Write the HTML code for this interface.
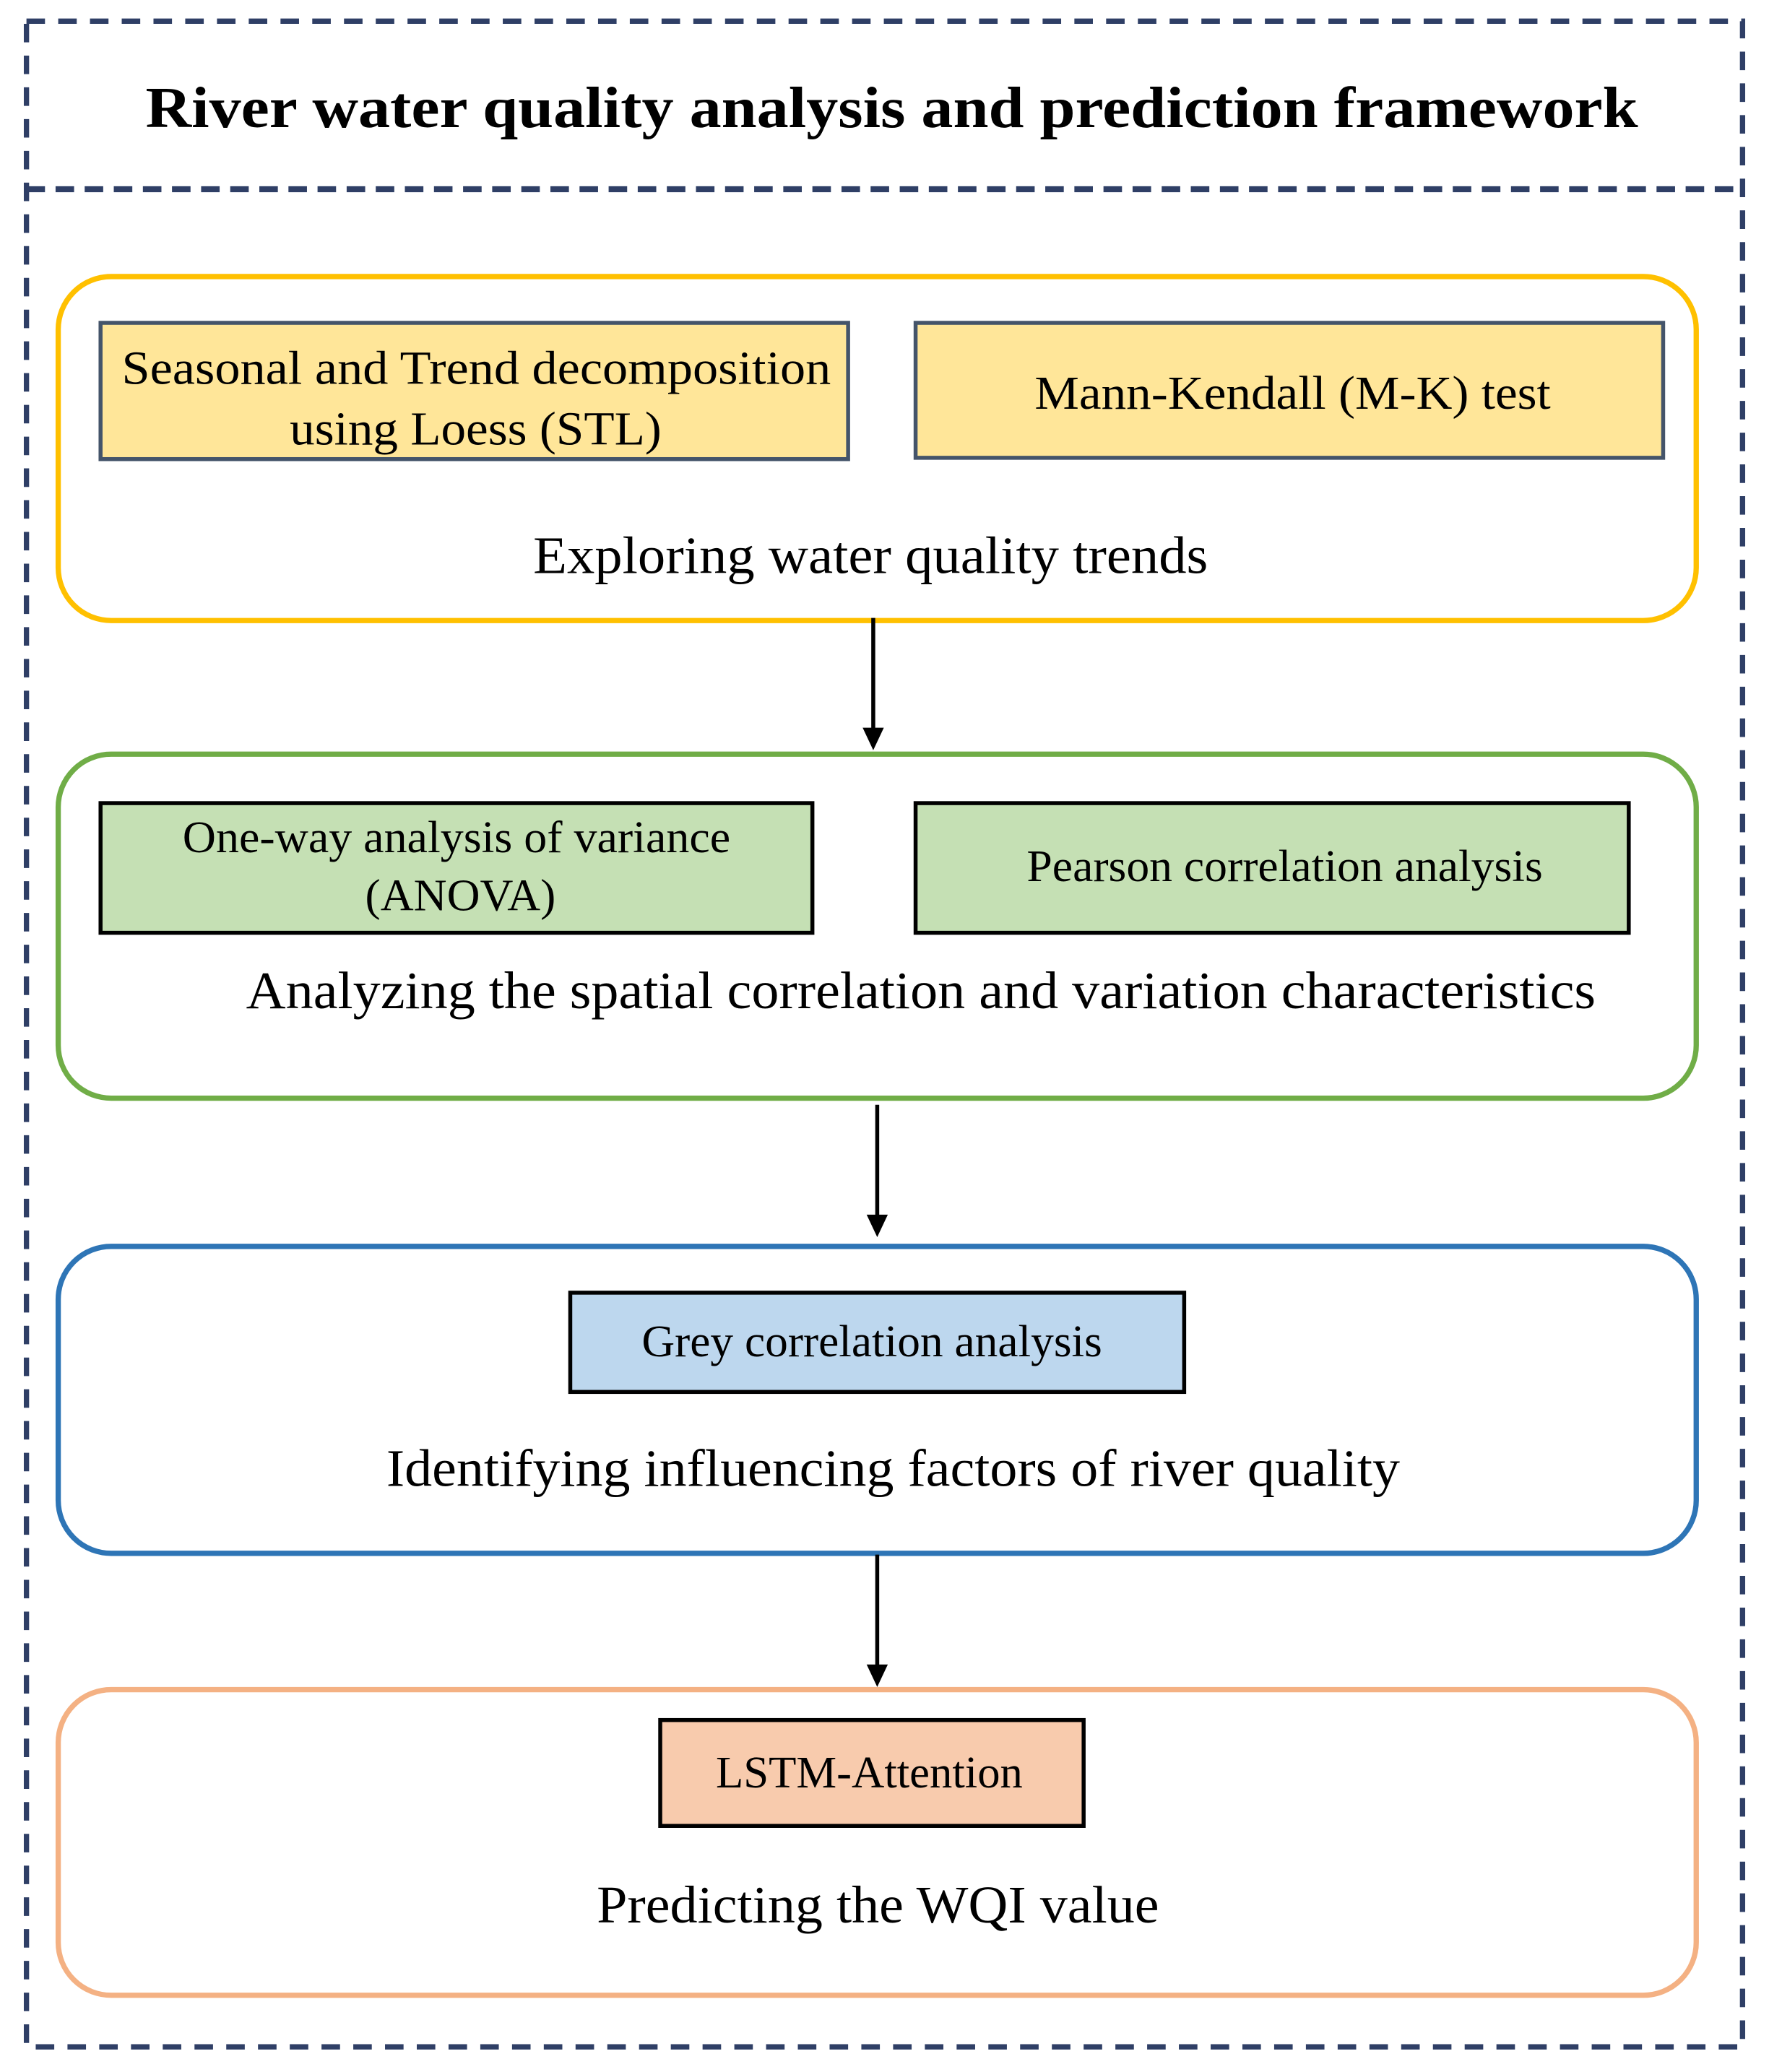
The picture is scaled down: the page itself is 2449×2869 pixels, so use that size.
<!DOCTYPE html>
<html><head><meta charset="utf-8"><style>
html,body{margin:0;padding:0;background:#fff;}
svg{display:block;}
text{font-family:"Liberation Serif",serif;fill:#000;}
</style></head><body>
<svg width="2449" height="2869" viewBox="0 0 1337 1566" preserveAspectRatio="none" xmlns="http://www.w3.org/2000/svg">
<rect width="1337" height="1566" fill="#fff"/>
<rect x="20" y="16" width="1297" height="1531" fill="none" stroke="#2F3F66" stroke-width="4" stroke-dasharray="14,10"/>
<line x1="20" y1="143" x2="1317" y2="143" stroke="#2F3F66" stroke-width="4.5" stroke-dasharray="14,8"/>
<text x="110" y="96" font-size="44" font-weight="bold" textLength="1128" lengthAdjust="spacingAndGlyphs">River water quality analysis and prediction framework</text>

<rect x="44" y="209" width="1238" height="260" rx="40" fill="none" stroke="#FFC000" stroke-width="4"/>
<rect x="76" y="244" width="565" height="103" fill="#FFE699" stroke="#44546A" stroke-width="3"/>
<rect x="692" y="244" width="565" height="102" fill="#FFE699" stroke="#44546A" stroke-width="3"/>
<text x="92" y="290" font-size="36" textLength="536" lengthAdjust="spacingAndGlyphs">Seasonal and Trend decomposition</text>
<text x="219" y="336" font-size="36" textLength="281" lengthAdjust="spacingAndGlyphs">using Loess (STL)</text>
<text x="782" y="309" font-size="36" textLength="390" lengthAdjust="spacingAndGlyphs">Mann-Kendall (M-K) test</text>
<text x="403" y="433" font-size="40" textLength="510" lengthAdjust="spacingAndGlyphs">Exploring water quality trends</text>
<line x1="660" y1="467" x2="660" y2="552" stroke="#000" stroke-width="3"/>
<polygon points="652,550 668,550 660,567" fill="#000"/>

<rect x="44" y="570" width="1238" height="260" rx="40" fill="none" stroke="#70AD47" stroke-width="4"/>
<rect x="76" y="607" width="538" height="98" fill="#C5E0B4" stroke="#000" stroke-width="3"/>
<rect x="692" y="607" width="539" height="98" fill="#C5E0B4" stroke="#000" stroke-width="3"/>
<text x="138" y="644" font-size="34" textLength="414" lengthAdjust="spacingAndGlyphs">One-way analysis of variance</text>
<text x="276" y="688" font-size="34" textLength="144" lengthAdjust="spacingAndGlyphs">(ANOVA)</text>
<text x="776" y="666" font-size="34" textLength="390" lengthAdjust="spacingAndGlyphs">Pearson correlation analysis</text>
<text x="186" y="762" font-size="40" textLength="1020" lengthAdjust="spacingAndGlyphs">Analyzing the spatial correlation and variation characteristics</text>
<line x1="663" y1="835" x2="663" y2="920" stroke="#000" stroke-width="3"/>
<polygon points="655,918 671,918 663,935" fill="#000"/>

<rect x="44" y="942" width="1238" height="232" rx="40" fill="none" stroke="#2E75B6" stroke-width="4"/>
<rect x="431" y="977" width="464" height="75" fill="#BDD7EE" stroke="#000" stroke-width="3"/>
<text x="485" y="1025" font-size="34" textLength="348" lengthAdjust="spacingAndGlyphs">Grey correlation analysis</text>
<text x="292" y="1123" font-size="40" textLength="766" lengthAdjust="spacingAndGlyphs">Identifying influencing factors of river quality</text>
<line x1="663" y1="1175" x2="663" y2="1260" stroke="#000" stroke-width="3"/>
<polygon points="655,1258 671,1258 663,1275" fill="#000"/>

<rect x="44" y="1277" width="1238" height="231" rx="40" fill="none" stroke="#F4B183" stroke-width="4"/>
<rect x="499" y="1300" width="320" height="80" fill="#F8CBAD" stroke="#000" stroke-width="3"/>
<text x="541" y="1351" font-size="34" textLength="232" lengthAdjust="spacingAndGlyphs">LSTM-Attention</text>
<text x="451" y="1453" font-size="40" textLength="425" lengthAdjust="spacingAndGlyphs">Predicting the WQI value</text>
</svg>
</body></html>
